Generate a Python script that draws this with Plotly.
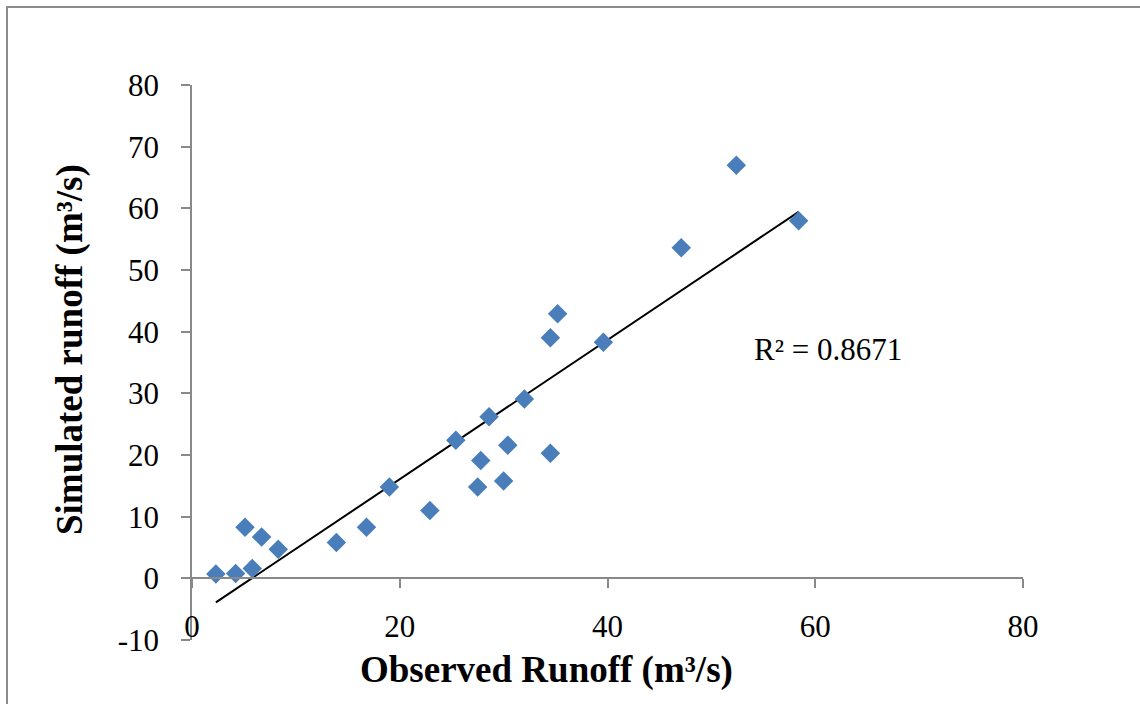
import numpy as np
import plotly.graph_objects as go

observed = [2.3, 4.2, 5.8, 5.1, 6.7, 8.3, 13.9, 16.8, 19.0, 22.9, 25.4, 27.5, 27.8,
            28.6, 30.0, 30.4, 32.0, 34.5, 34.5, 35.2, 39.6, 47.1, 52.4, 58.4]
simulated = [0.7, 0.8, 1.6, 8.3, 6.7, 4.7, 5.8, 8.3, 14.8, 11.0, 22.4, 14.8, 19.1,
             26.2, 15.8, 21.6, 29.1, 20.3, 39.0, 42.9, 38.3, 53.6, 67.0, 58.0]
x_ticks = [0, 20, 40, 60, 80]
x_labels = ["0", "20", "40", "60", "80"]
y_ticks = [-10, 0, 10, 20, 30, 40, 50, 60, 70, 80]
y_labels = ["-10", "0", "10", "20", "30", "40", "50", "60", "70", "80"]
r2_label = "R² = 0.8671"

slope, intercept = np.polyfit(observed, simulated, 1)
tx = [min(observed), max(observed)]
ty = [slope * v + intercept for v in tx]

FONT = "Liberation Serif, Times New Roman, serif"
AX = "#898989"

L, T, PW, PH = 192, 85, 831, 555
W, H = 1140, 704
R, B = W - L - PW, H - T - PH


def px(xp):
    return (xp - L) / PW


def py(yp):
    return (T + PH - yp) / PH


# frame: left and top edges only (the right/bottom run off the picture)
fx0, fy1 = px(7), py(7)
fx1, fy0 = px(W + 40), py(H + 40)
frame_path = f"M {fx0} {fy0} L {fx0} {fy1} L {fx1} {fy1}"

fig = go.Figure()
fig.add_trace(go.Scatter(x=tx, y=ty, mode="lines",
                         line=dict(color="black", width=2), hoverinfo="skip",
                         showlegend=False, cliponaxis=False))
fig.add_trace(go.Scatter(x=observed, y=simulated, mode="markers",
                         marker=dict(symbol="diamond", size=15, color="#4A7EBB",
                                     line=dict(width=0)),
                         showlegend=False, cliponaxis=False))

fig.update_layout(
    width=W, height=H,
    margin=dict(l=L, r=R, t=T, b=B),
    paper_bgcolor="white", plot_bgcolor="white",
    font=dict(family=FONT, size=31, color="black"),
    xaxis=dict(range=[0, 80], tickvals=x_ticks, ticktext=x_labels,
               showgrid=False, zeroline=False,
               showline=True, linecolor=AX, linewidth=1.5,
               ticks="outside", ticklen=9, tickcolor=AX, tickwidth=1.5,
               anchor="free", position=10 / 90, ticklabelstandoff=12,
               tickfont=dict(family=FONT, size=31)),
    yaxis=dict(range=[-10, 80], tickvals=y_ticks, ticktext=y_labels,
               showgrid=False, zeroline=False,
               showline=True, linecolor=AX, linewidth=1.5,
               ticks="outside", ticklen=9, tickcolor=AX, tickwidth=1.5,
               ticklabelstandoff=16, domain=[0, 1],
               tickfont=dict(family=FONT, size=31)),
    shapes=[dict(type="path", xref="paper", yref="paper", path=frame_path,
                 line=dict(color="#8c8c8c", width=2), layer="below")],
    annotations=[
        dict(text="<b>Observed Runoff (m³/s)</b>", xref="paper", yref="paper",
             x=px(546), y=py(670), xanchor="center", yanchor="middle",
             showarrow=False, font=dict(family=FONT, size=37)),
        dict(text="<b>Simulated runoff (m³/s)</b>", xref="paper", yref="paper",
             x=px(70), y=py(350), xanchor="center", yanchor="middle",
             textangle=-90, showarrow=False, font=dict(family=FONT, size=37)),
        dict(text=r2_label, xref="paper", yref="paper",
             x=px(752), y=py(349), xanchor="left", yanchor="middle",
             showarrow=False, font=dict(family=FONT, size=31)),
    ],
)

fig.write_html(
    "out.html",
    config={"displayModeBar": False},
    post_script="document.body.style.margin='0px';"
                "document.body.style.overflow='hidden';"
                "document.documentElement.style.overflow='hidden';",
)
